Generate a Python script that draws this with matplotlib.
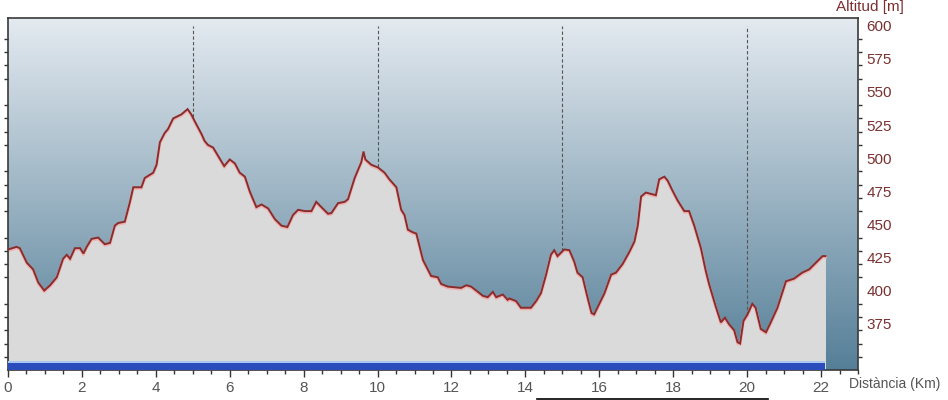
import numpy as np
import matplotlib
matplotlib.use("Agg")
import matplotlib.pyplot as plt
from matplotlib.colors import LinearSegmentedColormap
from matplotlib.lines import Line2D

plt.rcParams['font.family'] = ['Liberation Sans', 'DejaVu Sans']

# distance (km) and altitude (m)
dist_km = [0.0, 0.23, 0.32, 0.51, 0.68, 0.82, 0.98, 1.14, 1.32, 1.49, 1.59, 1.68, 1.81, 1.95,
           2.04, 2.13, 2.26, 2.44, 2.62, 2.76, 2.89, 2.98, 3.16, 3.30, 3.39, 3.61, 3.70, 3.93,
           4.02, 4.11, 4.24, 4.33, 4.47, 4.69, 4.86, 4.96, 5.05, 5.24, 5.32, 5.41, 5.55, 5.68,
           5.85, 6.00, 6.14, 6.27, 6.41, 6.54, 6.72, 6.86, 7.04, 7.22, 7.40, 7.56, 7.71, 7.85,
           8.03, 8.21, 8.34, 8.48, 8.66, 8.75, 8.93, 9.11, 9.20, 9.38, 9.56, 9.62, 9.67, 9.83,
           10.01, 10.19, 10.32, 10.51, 10.64, 10.73, 10.82, 10.95, 11.05, 11.14, 11.23, 11.36,
           11.45, 11.63, 11.72, 11.90, 12.26, 12.40, 12.53, 12.67, 12.85, 12.98, 13.12, 13.21,
           13.39, 13.52, 13.57, 13.75, 13.88, 14.15, 14.29, 14.42, 14.56, 14.69, 14.78, 14.87,
           15.05, 15.19, 15.32, 15.41, 15.55, 15.68, 15.79, 15.86, 16.00, 16.14, 16.32, 16.45,
           16.63, 16.81, 16.95, 17.04, 17.13, 17.26, 17.40, 17.53, 17.62, 17.76, 17.85, 17.98,
           18.12, 18.30, 18.43, 18.57, 18.75, 18.88, 18.97, 19.15, 19.29, 19.40, 19.51, 19.65,
           19.74, 19.81, 19.90, 20.01, 20.14, 20.23, 20.37, 20.51, 20.64, 20.82, 21.05, 21.27,
           21.49, 21.68, 21.86, 22.04, 22.12]
altitude_m = [431, 433, 432, 421, 416, 406, 400, 404, 410, 424, 427, 424, 432, 432,
              428, 433, 439, 440, 435, 436, 449, 451, 452, 467, 478, 478, 485, 489,
              495, 512, 519, 522, 530, 533, 537, 533, 528, 518, 513, 510, 508, 502,
              494, 499, 496, 489, 486, 475, 463, 465, 462, 454, 449, 448, 457, 461,
              460, 460, 467, 463, 458, 458.5, 466, 467, 469, 485, 497, 505, 499, 495,
              493, 489, 484, 478, 461, 457, 446, 444, 443, 433, 423, 416,
              411, 410, 405, 403, 402, 404, 403, 400, 396, 395, 399, 395,
              397, 393, 394, 392, 387, 387, 392, 398, 412, 427, 430.5, 426,
              431, 430.5, 422, 413.5, 410, 395, 383, 382, 390, 398, 412, 413.5,
              420, 429, 437, 449, 471, 474, 473, 472, 484, 486, 483, 475.5,
              468, 460, 460, 449, 432, 415, 405, 388, 376, 379.5, 374.6, 370,
              361, 360, 377, 382, 390, 387, 371, 368.5, 376, 387, 407, 409,
              413.5, 416, 421, 426, 426]

x_major = [0, 2, 4, 6, 8, 10, 12, 14, 16, 18, 20, 22]
y_labels = [375, 400, 425, 450, 475, 500, 525, 550, 575, 600]
marker_km = [5, 10, 15, 20]

x = np.array(dist_km)
y = np.array(altitude_m)

XMIN, XMAX = 0, 23
YMIN, YMAX = 340, 605.6

fig = plt.figure(figsize=(9.48, 4.0), dpi=100)
ax = fig.add_axes([8/948, 30/400, 850/948, (370-18.3)/400])

# gradient background
cmap = LinearSegmentedColormap.from_list('bg', ['#557f98', '#e4eaf0'])
grad = np.linspace(0, 1, 256).reshape(-1, 1)
ax.imshow(grad, cmap=cmap, origin='lower', aspect='auto',
          extent=[XMIN, XMAX, YMIN, YMAX], zorder=0, interpolation='bilinear')

# profile fill
ax.fill_between(x, YMIN, y, color='#dadada', zorder=1, linewidth=0)
ax.plot(x, y - 0.9, color='#f0b0b0', lw=2.0, zorder=2, solid_joinstyle='round')
ax.plot(x, y, color='#8a2c2c', lw=1.4, zorder=3, solid_joinstyle='miter')

# blue bar
ax.fill_between([0, x[-1]], YMIN, 345.6, color='#2a4cbd', zorder=4, linewidth=0)
ax.fill_between([0, x[-1]], 345.6, 346.8, color='#a8c8f0', zorder=4, linewidth=0)

# dashed km markers
for m in marker_km:
    h = np.interp(m, x, y)
    ax.plot([m, m], [h, 600], color='#555555', lw=0.8, ls=(0, (3, 2)), zorder=2)

ax.set_xlim(XMIN, XMAX)
ax.set_ylim(YMIN, YMAX)

ax.set_xticks(x_major)
ax.set_xticklabels([str(v) for v in x_major])
ax.set_xticks(np.arange(0, 23.01, 0.5), minor=True)
ax.tick_params(axis='x', which='major', direction='out', length=5, width=1,
               colors='#333333', labelcolor='#555555', labelsize=11, pad=3)
ax.tick_params(axis='x', which='minor', direction='out', length=3, width=1, colors='#333333')

ax.set_yticks(y_labels)
ax.set_yticklabels([str(v) for v in y_labels])
ax.set_yticks(np.arange(350, 601, 10), minor=True)
ax.tick_params(axis='y', which='major', left=False, right=True, labelleft=False,
               labelright=True, length=0, labelcolor='#7a3030', labelsize=11, pad=6)
ax.tick_params(axis='y', which='minor', left=True, right=True, direction='out',
               length=3, width=1, colors='#333333')

for s in ax.spines.values():
    s.set_color('#3a3a3a')
    s.set_linewidth(1.2)

fig.text(870/948, 1 - 7/400, 'Altitud [m]', ha='center', va='center',
         color='#7a3030', fontsize=11)
fig.text(849/948, 1 - 384/400, 'Distància (Km)', ha='left', va='center',
         color='#555555', fontsize=10)

fig.add_artist(Line2D([537/948, 768/948], [1.5/400, 1.5/400], color='black', lw=1.2))

fig.savefig('out.png', dpi=100, facecolor='white')
